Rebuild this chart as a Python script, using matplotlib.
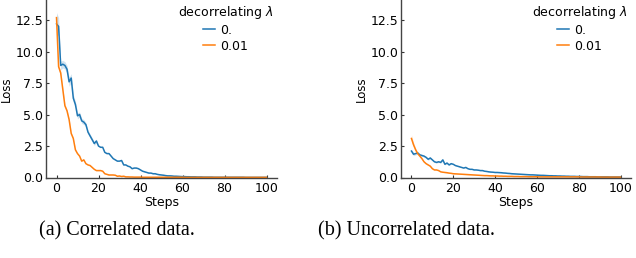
import numpy as np
import matplotlib
matplotlib.use("Agg")
import matplotlib.pyplot as plt

# ---- data ----
left_blue = [12.2, 12.0, 8.9, 9.0, 8.9, 8.6, 7.6, 7.9, 6.3, 5.8,
             4.9, 5.0, 4.5, 4.4, 4.2, 3.6, 3.3, 3.0, 2.7, 2.9,
             2.5, 2.4, 2.4, 2.0, 1.9, 1.9, 1.7, 1.5, 1.4, 1.3,
             1.3, 1.35, 1.0, 1.0, 0.9, 0.85, 0.7, 0.75, 0.75, 0.7,
             0.6, 0.5, 0.45, 0.4, 0.35, 0.35, 0.3, 0.3, 0.25, 0.22,
             0.2, 0.18, 0.15, 0.13, 0.13, 0.12, 0.1, 0.1, 0.09, 0.08,
             0.07, 0.07, 0.06, 0.06, 0.05, 0.05, 0.05, 0.04, 0.04, 0.04,
             0.03, 0.03, 0.03, 0.03, 0.03, 0.02, 0.02, 0.02, 0.02, 0.02,
             0.02, 0.02, 0.02, 0.02, 0.02, 0.02, 0.02, 0.02, 0.02, 0.02,
             0.01, 0.01, 0.01, 0.01, 0.01, 0.01, 0.01, 0.01, 0.01, 0.01, 0.01]
left_orange = [12.7, 8.8, 8.3, 7.0, 5.7, 5.3, 4.6, 3.5, 3.1, 2.2,
               1.9, 1.7, 1.3, 1.4, 1.1, 1.0, 0.95, 0.8, 0.65, 0.55,
               0.55, 0.55, 0.5, 0.3, 0.25, 0.2, 0.2, 0.2, 0.18, 0.1,
               0.12, 0.08, 0.1, 0.05, 0.05, 0.04, 0.04, 0.03, 0.03, 0.03,
               0.03, 0.02, 0.02, 0.02, 0.02, 0.02, 0.02, 0.02, 0.02, 0.02,
               0.02, 0.02, 0.02, 0.02, 0.02, 0.02, 0.02, 0.02, 0.02, 0.02,
               0.02, 0.01, 0.01, 0.01, 0.01, 0.01, 0.01, 0.01, 0.01, 0.01,
               0.01, 0.01, 0.01, 0.01, 0.01, 0.01, 0.01, 0.01, 0.01, 0.01,
               0.01, 0.01, 0.01, 0.01, 0.01, 0.01, 0.01, 0.01, 0.01, 0.01,
               0.01, 0.01, 0.01, 0.01, 0.01, 0.01, 0.01, 0.01, 0.01, 0.01, 0.01]
right_blue = [2.1, 1.85, 1.9, 1.95, 1.8, 1.75, 1.7, 1.6, 1.45, 1.55,
              1.4, 1.25, 1.2, 1.25, 1.2, 1.4, 1.05, 1.15, 1.0, 1.1,
              1.05, 0.95, 0.9, 0.85, 0.8, 0.75, 0.8, 0.7, 0.65, 0.65,
              0.6, 0.6, 0.58, 0.55, 0.55, 0.5, 0.48, 0.45, 0.43, 0.42,
              0.4, 0.4, 0.39, 0.38, 0.36, 0.35, 0.33, 0.32, 0.3, 0.29,
              0.28, 0.27, 0.26, 0.25, 0.24, 0.23, 0.22, 0.21, 0.21, 0.2,
              0.19, 0.18, 0.17, 0.17, 0.16, 0.15, 0.14, 0.14, 0.13, 0.13,
              0.12, 0.12, 0.11, 0.11, 0.1, 0.1, 0.09, 0.09, 0.09, 0.08,
              0.08, 0.08, 0.07, 0.07, 0.07, 0.06, 0.06, 0.06, 0.06, 0.05,
              0.05, 0.05, 0.05, 0.05, 0.05, 0.04, 0.04, 0.04, 0.04, 0.04, 0.04]
right_orange = [3.1, 2.6, 2.2, 1.9, 1.7, 1.5, 1.25, 1.1, 1.0, 0.9,
                0.7, 0.6, 0.6, 0.55, 0.45, 0.42, 0.4, 0.38, 0.35, 0.33,
                0.3, 0.29, 0.28, 0.27, 0.26, 0.25, 0.24, 0.23, 0.22, 0.21,
                0.2, 0.19, 0.18, 0.17, 0.16, 0.15, 0.15, 0.14, 0.13, 0.13,
                0.12, 0.12, 0.11, 0.11, 0.1, 0.1, 0.09, 0.09, 0.09, 0.08,
                0.08, 0.08, 0.07, 0.07, 0.07, 0.07, 0.06, 0.06, 0.06, 0.06,
                0.06, 0.05, 0.05, 0.05, 0.05, 0.05, 0.05, 0.05, 0.05, 0.05,
                0.05, 0.05, 0.05, 0.05, 0.05, 0.05, 0.05, 0.05, 0.05, 0.05,
                0.05, 0.04, 0.04, 0.04, 0.04, 0.04, 0.04, 0.04, 0.04, 0.04,
                0.04, 0.03, 0.03, 0.03, 0.03, 0.03, 0.03, 0.03, 0.03, 0.03, 0.03]

# half-width of the shaded confidence band at the first steps
left_blue_band = [0.9, 0.7, 0.35, 0.3, 0.3, 0.3, 0.35, 0.35, 0.3, 0.25,
                  0.25, 0.2, 0.2, 0.2, 0.15, 0.15, 0.15, 0.15, 0.15, 0.15]
left_orange_band = [0.4, 0.25, 0.2, 0.15, 0.15, 0.12, 0.1, 0.1, 0.08, 0.08]
right_blue_band = [0.15, 0.12, 0.1, 0.1, 0.08, 0.08, 0.08, 0.08, 0.08, 0.08,
                   0.06, 0.06, 0.06, 0.06, 0.06, 0.08, 0.06, 0.05, 0.05, 0.05]
right_orange_band = [0.3, 0.2, 0.15, 0.1, 0.08, 0.06, 0.05, 0.05, 0.04, 0.04]

lambdas = ["0.", "0.01"]
legend_title = r"decorrelating $\lambda$"
xlabel = "Steps"
ylabel = "Loss"
yticks = [0.0, 2.5, 5.0, 7.5, 10.0, 12.5]
xticks = [0, 20, 40, 60, 80, 100]
captions = ["(a) Correlated data.", "(b) Uncorrelated data."]

colors = ["#1f77b4", "#ff7f0e"]

fig = plt.figure(figsize=(6.36, 2.58), dpi=100)
axL = fig.add_axes([46 / 636, 1 - 177.5 / 258, (277 - 46) / 636, 177.5 / 258])
axR = fig.add_axes([401 / 636, 1 - 177.5 / 258, (631 - 401) / 636, 177.5 / 258])


def band(b, n):
    arr = np.full(n, 0.02)
    arr[:len(b)] = b
    return arr


panels = [
    (axL, [left_blue, left_orange], [left_blue_band, left_orange_band]),
    (axR, [right_blue, right_orange], [right_blue_band, right_orange_band]),
]

for ax, series, bands in panels:
    for vals, b, c, lab in zip(series, bands, colors, lambdas):
        v = np.array(vals)
        x = np.arange(len(v))
        w = band(b, len(v))
        ax.fill_between(x, v - w, v + w, color=c, alpha=0.2, linewidth=0)
        ax.plot(x, v, color=c, lw=1.1, label=lab)
    ax.set_xlim(-5, 105)
    ax.set_ylim(0, 14.1)
    ax.set_yticks(yticks)
    ax.set_xticks(xticks)
    ax.tick_params(direction="in", length=2.5, width=0.8, labelsize=9,
                   colors="#333333", labelcolor="black")
    ax.tick_params(axis="x", pad=3.5)
    ax.tick_params(axis="y", pad=2)
    for s in ["top", "right"]:
        ax.spines[s].set_visible(False)
    for s in ["left", "bottom"]:
        ax.spines[s].set_color("#444444")
        ax.spines[s].set_linewidth(1.0)
    ax.set_xlabel(xlabel, fontsize=9, labelpad=0.5)
    ax.set_ylabel(ylabel, fontsize=8.5, labelpad=1.5)
    leg = ax.legend(title=legend_title, loc="upper right", frameon=False,
                    fontsize=9, title_fontsize=9, handlelength=0.9,
                    handletextpad=0.4, borderaxespad=0.2, labelspacing=0.25,
                    borderpad=0.1)
    leg._legend_box.sep = 2

fig.text(117 / 636, 1 - 231 / 258, captions[0], ha="center", va="center",
         family="Liberation Serif", fontsize=14.5)
fig.text(406 / 636, 1 - 231 / 258, captions[1], ha="center", va="center",
         family="Liberation Serif", fontsize=14.5)

fig.savefig("out.png", dpi=100)
